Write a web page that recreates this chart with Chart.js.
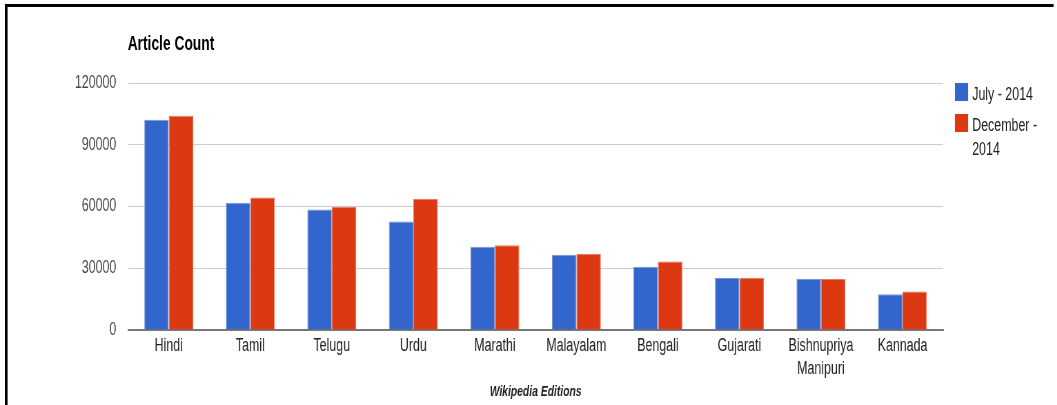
<!DOCTYPE html>
<html>
<head>
<meta charset="utf-8">
<script src="https://cdn.jsdelivr.net/npm/chart.js@4/dist/chart.umd.min.js"></script>
<style>
  html, body { margin: 0; background: #fff; overflow: hidden; }
  /* the original picture is squeezed sideways, so the whole chart is drawn wide and scaled down */
  #wrap { position: relative; width: 1532px; height: 405px; overflow: hidden; transform: scaleX(0.69); transform-origin: 0 0; font-family: "Liberation Sans", Arial, sans-serif; }
  #frame { position: absolute; left: 7px; top: 4px; width: 1520px; height: 410px; border-top: 3px solid #000; border-left: 4.4px solid #000; box-sizing: border-box; }
  #myChart { position: absolute; left: 0; top: 0; }
  #title { position: absolute; left: 185px; top: 32px; font-size: 20px; font-weight: bold; color: #000; }
  #legend { position: absolute; left: 1384px; top: 82px; font-size: 18px; color: #222; }
  .item { position: relative; padding-left: 25px; line-height: 24px; margin-bottom: 7px; }
  .item span { position: absolute; left: 0; top: 1px; width: 19px; height: 18px; }
</style>
</head>
<body>
<div id="wrap">
  <canvas id="myChart" width="1532" height="405"></canvas>
  <div id="frame"></div>
  <div id="title">Article Count</div>
  <div id="legend"></div>
</div>
<script>
// Wikipedia editions and article counts
const editions = ["Hindi", "Tamil", "Telugu", "Urdu", "Marathi", "Malayalam", "Bengali", "Gujarati", ["Bishnupriya", "Manipuri"], "Kannada"];
const july2014 = [102100, 61800, 58600, 52700, 40500, 36500, 30700, 25300, 24800, 17400];
const december2014 = [104100, 64400, 59900, 63800, 41200, 37100, 33300, 25400, 24800, 18700];
const seriesNames = [["July - 2014"], ["December -", "2014"]];
const yTicks = [0, 30000, 60000, 90000, 120000];

const blue = "#3366cc";
const red = "#dc3912";
const fontName = "'Liberation Sans', Arial, sans-serif";

// Legend drawn as html so the second label can wrap like the original
const legendDiv = document.getElementById("legend");
[blue, red].forEach(function(color, i) {
  const item = document.createElement("div");
  item.className = "item";
  const box = document.createElement("span");
  box.style.background = color;
  item.appendChild(box);
  seriesNames[i].forEach(function(line, j) {
    if (j > 0) item.appendChild(document.createElement("br"));
    item.appendChild(document.createTextNode(line));
  });
  legendDiv.appendChild(item);
});

const ctx = document.getElementById("myChart").getContext("2d");
const chart = new Chart(ctx, {
  type: "bar",
  data: {
    labels: editions,
    datasets: [
      {
        label: seriesNames[0].join(" "),
        data: july2014,
        backgroundColor: blue,
        borderColor: "#7595d9",
        borderWidth: 1,
      },
      {
        label: seriesNames[1].join(" "),
        data: december2014,
        backgroundColor: red,
        borderColor: "#e8775c",
        borderWidth: 1,
      },
    ],
  },
  options: {
    responsive: false,
    animation: false,
    categoryPercentage: 0.6,
    barPercentage: 1.0,
    layout: { padding: { top: 83, right: 165, left: 0, bottom: 0 } },
    plugins: {
      legend: { display: false },
      tooltip: { enabled: false },
    },
    scales: {
      x: {
        grid: { display: false, drawTicks: false },
        border: { display: true, color: "#777", width: 2 },
        ticks: {
          color: "#222",
          font: { family: fontName, size: 18, lineHeight: "23px" },
          padding: 5,
          maxRotation: 0,
          autoSkip: false,
        },
        title: {
          display: true,
          text: "Wikipedia Editions",
          color: "#222",
          font: { family: fontName, size: 15, weight: "bold", style: "italic" },
          padding: { top: 0, bottom: 4 },
        },
        afterFit: function(scale) { scale.height = 75; },
      },
      y: {
        min: 0,
        max: 120000,
        afterBuildTicks: function(scale) {
          scale.ticks = yTicks.map(function(v) { return { value: v }; });
        },
        grid: { color: "#cccccc", lineWidth: 1, drawTicks: false },
        border: { display: false },
        ticks: {
          color: "#444",
          font: { family: fontName, size: 18 },
          padding: 17,
          callback: function(value) { return String(value); },
        },
        afterFit: function(scale) { scale.width = 185.5; },
      },
    },
  },
});
</script>
</body>
</html>
